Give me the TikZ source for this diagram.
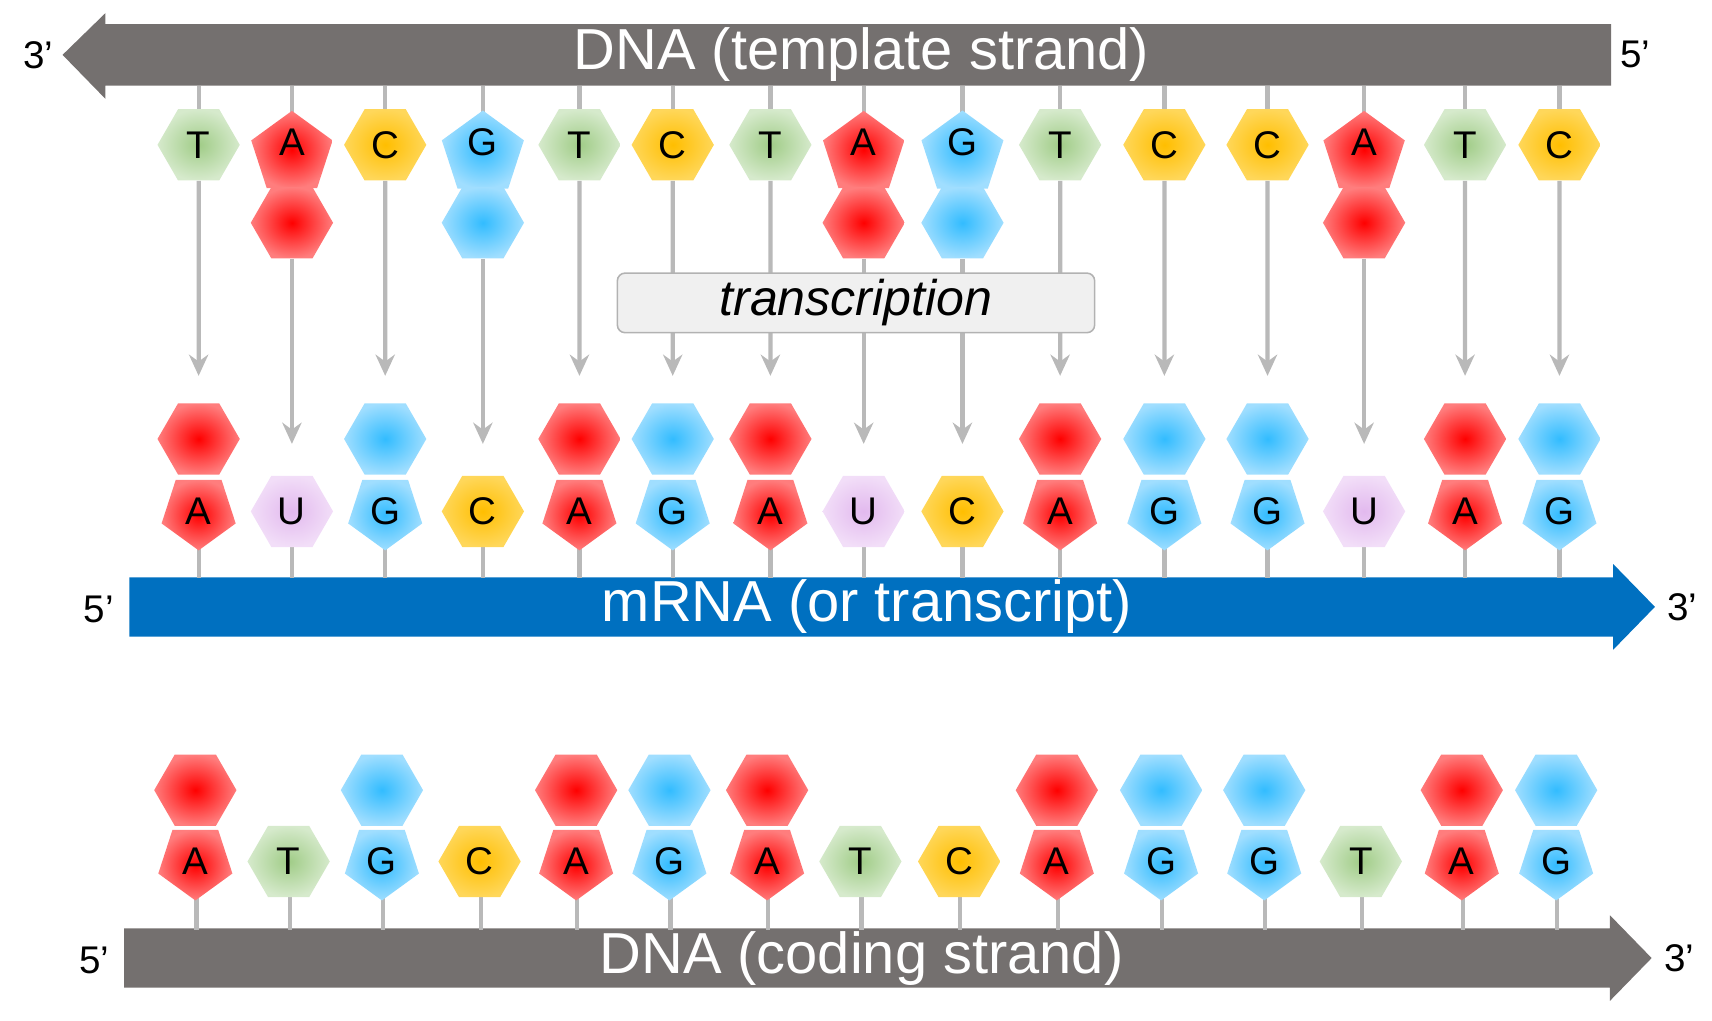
\documentclass[tikz,border=0pt]{standalone}
\usepackage{fontspec}
\setmainfont{Liberation Sans}
\usetikzlibrary{shapes.geometric,arrows.meta}
\definecolor{strandgray}{RGB}{116,112,111}
\definecolor{rnablue}{RGB}{0,112,192}
\tikzset{
  base/.style={inner sep=0pt, text=black, font=\fontsize{20}{20}\selectfont},
  hex/.style={base, regular polygon, regular polygon sides=6, minimum size=1.5cm},
  pent/.style={base, regular polygon, regular polygon sides=5, minimum size=1.42cm},
  A/.style={pent, shading=radial, inner color={rgb,255:red,255;green,0;blue,0}, outer color={rgb,255:red,255;green,125;blue,125}},
  G/.style={pent, shading=radial, inner color={rgb,255:red,50;green,188;blue,255}, outer color={rgb,255:red,160;green,222;blue,255}},
  T/.style={hex, shading=radial, inner color={rgb,255:red,160;green,204;blue,135}, outer color={rgb,255:red,214;green,234;blue,204}},
  C/.style={hex, shading=radial, inner color={rgb,255:red,255;green,190;blue,0}, outer color={rgb,255:red,255;green,215;blue,90}},
  U/.style={hex, shading=radial, inner color={rgb,255:red,226;green,185;blue,238}, outer color={rgb,255:red,242;green,222;blue,248}},
  Apair/.style={A, regular polygon sides=6, minimum size=1.5cm},
  Gpair/.style={G, regular polygon sides=6, minimum size=1.5cm},
  down/.style={shape border rotate=180},
  stem/.style={draw=gray!55, line width=2.2pt},
  copy/.style={stem, -{Stealth[length=11pt,width=10pt]}, shorten >=2pt},
  title/.style={text=white, font=\fontsize{30}{30}\selectfont},
  prime/.style={font=\fontsize{20}{20}\selectfont}
}
\begin{document}
\begin{tikzpicture}[x=0.02cm,y=0.02cm]
  \useasboundingbox (0,0) rectangle (1560,-929.6);
  % strands
  \fill[strandgray] (1468,-22) -- (96,-22) -- (96,-12) -- (57,-50) -- (96,-90)
    -- (96,-78) -- (1468,-78) -- cycle;
  \fill[rnablue] (118,-526) -- (1470,-526) -- (1470,-514) -- (1508,-553)
    -- (1470,-592) -- (1470,-580) -- (118,-580) -- cycle;
  \fill[strandgray] (113,-846) -- (1467,-846) -- (1467,-834) -- (1505,-873)
    -- (1467,-912) -- (1467,-900) -- (113,-900) -- cycle;
  % template, mRNA and coding bases
  \foreach \x/\t/\m/\c [count=\i] in {181/T/A/A, 266/A/U/T, 351/C/G/G, 440/G/C/C, 528/T/A/A,
      613/C/G/G, 702/T/A/A, 787/A/U/T, 877/G/C/C, 966/T/A/A, 1061/C/G/G, 1155/C/G/G,
      1243/A/U/T, 1335/T/A/A, 1421/C/G/G} {
    \draw[stem] (\x,-78) -- (\x,-140);
    \draw[stem] (\x,-466) -- (\x,-527);
    \draw[stem] (\x-2,-785) -- (\x-2,-847);
    \if\t A
      \node[\t] (t\i) at (\x,-140) {\raisebox{1.1ex}{\t}};
      \node[Apair] (p\i) at (\x,-203) {};
      \draw[copy] (p\i.south) -- (\x,-408);
    \else\if\t G
      \node[\t] (t\i) at (\x,-140) {\raisebox{1.1ex}{\t}};
      \node[Gpair] (p\i) at (\x,-203) {};
      \draw[copy] (p\i.south) -- (\x,-408);
    \else
      \node[\t] (t\i) at (\x,-132) {\t};
      \draw[copy] (t\i.south) -- (\x,-346);
    \fi\fi
    \if\m A
      \node[\m pair] (mp\i) at (\x,-400) {};
      \node[\m pair] (cp\i) at (\x-3,-720) {};
    \else\if\m G
      \node[\m pair] (mp\i) at (\x,-400) {};
      \node[\m pair] (cp\i) at (\x-3,-720) {};
    \fi\fi
    \node[\m, down] (m\i) at (\x,-466) {\m};
    \node[\c, down] (c\i) at (\x-3,-785) {\c};
  }
  % labels
  \node[title] (lT) at (785,-50) {DNA (template strand)};
  \node[title] (lM) at (790,-553) {mRNA (or transcript)};
  \node[title] (lC) at (785,-873) {DNA (coding strand)};
  \node[prime] (e1) at (35,-50) {3’};
  \node[prime] (e2) at (1490,-50) {5’};
  \node[prime] (e3) at (90,-555) {5’};
  \node[prime] (e4) at (1533,-553) {3’};
  \node[prime] (e5) at (86,-875) {5’};
  \node[prime] (e6) at (1530,-873) {3’};
  \node[draw=gray!60, fill=gray!12, rounded corners=4pt, line width=0.8pt,
        minimum width=8.7cm, minimum height=0.98cm,
        font=\fontsize{26}{26}\selectfont\itshape] (tx) at (780,-276) {transcription};
\end{tikzpicture}
\end{document}
